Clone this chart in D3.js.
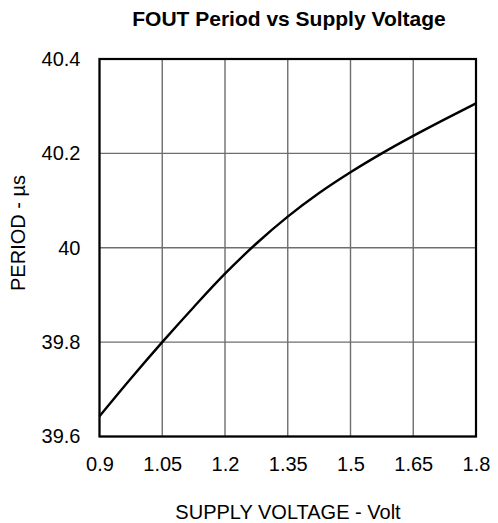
<!DOCTYPE html>
<html><head><meta charset="utf-8">
<script src="https://cdn.jsdelivr.net/npm/d3@7"></script>
<style>body{margin:0;background:#fff}</style>
</head><body>
<svg id="c" width="498" height="523"></svg>
<script>
const voltage = [0.9, 0.975, 1.05, 1.125, 1.2, 1.275, 1.35, 1.425, 1.5, 1.575, 1.65, 1.725, 1.8];
const period  = [39.643, 39.723, 39.800, 39.874, 39.945, 40.009, 40.066, 40.116, 40.160, 40.200, 40.237, 40.272, 40.306];
const xTicks = [0.9, 1.05, 1.2, 1.35, 1.5, 1.65, 1.8];
const xTickLabels = ["0.9", "1.05", "1.2", "1.35", "1.5", "1.65", "1.8"];
const yTicks = [39.6, 39.8, 40, 40.2, 40.4];
const yTickLabels = ["39.6", "39.8", "40", "40.2", "40.4"];
const title = "FOUT Period vs Supply Voltage";
const xTitle = "SUPPLY VOLTAGE - Volt";
const yTitle = "PERIOD - µs";

const svg = d3.select("#c");
const L = 99.5, R = 476, T = 59, B = 436.5;
const x = d3.scaleLinear().domain([0.9, 1.8]).range([L, R]);
const y = d3.scaleLinear().domain([39.6, 40.4]).range([B, T]);
const font = "Liberation Sans, Arial, sans-serif";

// grid
svg.append("g").selectAll("line.v").data(xTicks).join("line")
  .attr("x1", d => x(d)).attr("x2", d => x(d)).attr("y1", T).attr("y2", B)
  .attr("stroke", "#6e6e6e").attr("stroke-width", 1.4);
svg.append("g").selectAll("line.h").data(yTicks).join("line")
  .attr("y1", d => y(d)).attr("y2", d => y(d)).attr("x1", L).attr("x2", R)
  .attr("stroke", "#6e6e6e").attr("stroke-width", 1.4);

// frame
svg.append("rect").attr("x", L).attr("y", T).attr("width", R - L).attr("height", B - T)
  .attr("fill", "none").attr("stroke", "#000").attr("stroke-width", 2.2);

// curve
const pts = voltage.map((v, i) => [v, period[i]]);
svg.append("path").datum(pts)
  .attr("d", d3.line().x(d => x(d[0])).y(d => y(d[1])).curve(d3.curveCatmullRom))
  .attr("fill", "none").attr("stroke", "#000").attr("stroke-width", 2.4);

const xAxis = svg.append("g").attr("transform", `translate(0,${B})`)
  .call(d3.axisBottom(x).tickValues(xTicks).tickFormat((d, i) => xTickLabels[i]).tickSize(0).tickPadding(20));
xAxis.select(".domain").remove();
xAxis.selectAll("text").attr("font-family", font).attr("font-size", 20).attr("fill", "#000");

const yAxis = svg.append("g").attr("transform", `translate(${L},0)`)
  .call(d3.axisLeft(y).tickValues(yTicks).tickFormat((d, i) => yTickLabels[i]).tickSize(0).tickPadding(19));
yAxis.select(".domain").remove();
yAxis.selectAll("text").attr("font-family", font).attr("font-size", 20).attr("fill", "#000");

svg.append("text").attr("x", 289).attr("y", 26).attr("text-anchor", "middle")
  .attr("font-family", font).attr("font-weight", "bold").attr("font-size", 21).text(title);
svg.append("text").attr("x", 288).attr("y", 519).attr("text-anchor", "middle")
  .attr("font-family", font).attr("font-size", 20).text(xTitle);
svg.append("text").attr("transform", "translate(25,233) rotate(-90)").attr("text-anchor", "middle")
  .attr("font-family", font).attr("font-size", 20).text(yTitle);
</script>
</body></html>
